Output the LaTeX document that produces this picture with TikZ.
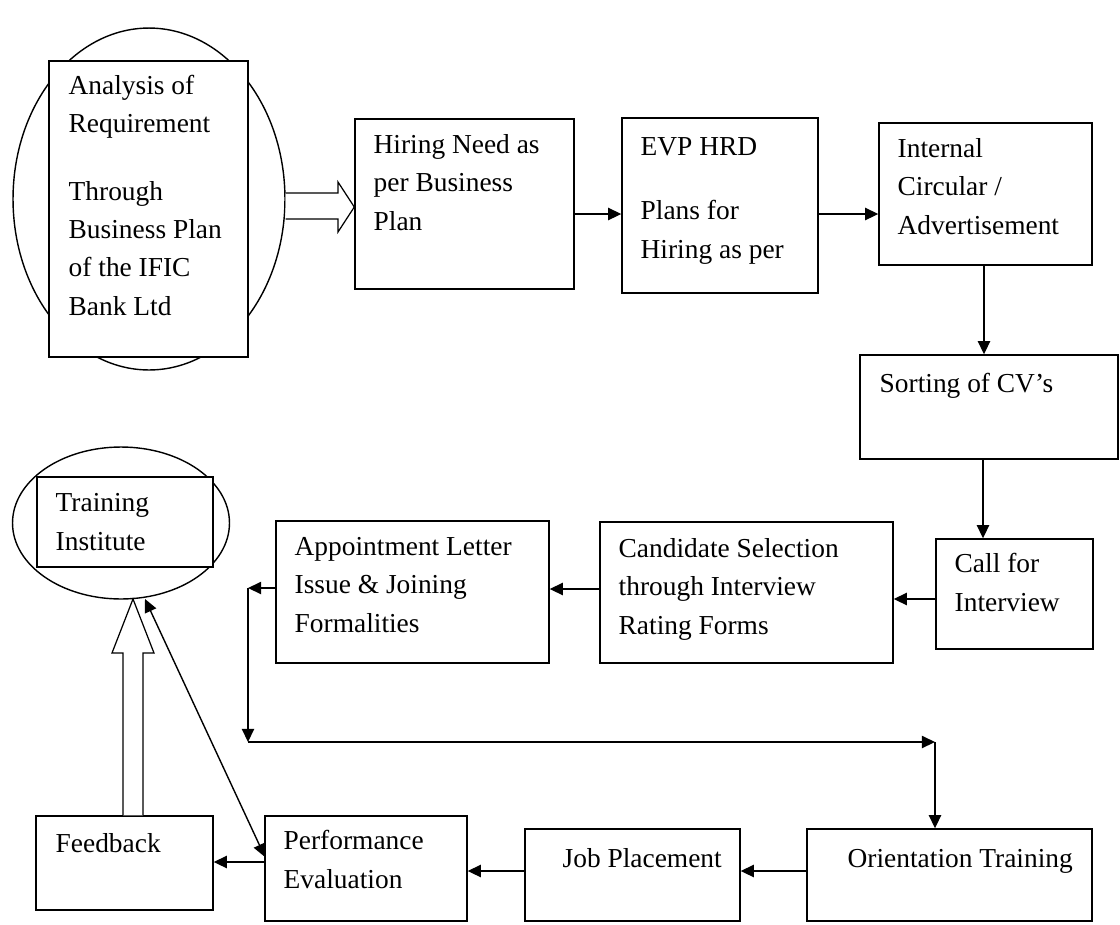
\documentclass[tikz,border=0pt]{standalone}
\usepackage{fontspec}
\setmainfont{Liberation Serif}
\usetikzlibrary{arrows.meta,fit,shapes.geometric}

\begin{document}
\begin{tikzpicture}[x=0.02cm,y=-0.02cm,line width=0.8pt,>={Triangle[length=7.5pt,width=7pt]}]
		\tikzstyle{every node}+=[inner sep=0pt]
		\tikzstyle{box}=[draw,rectangle,fill=white]
		\tikzstyle{oval}=[draw,ellipse]
		\tikzstyle{txt}=[anchor=base west,align=left,font=\fontsize{15.6}{21.8}\selectfont]
		\tikzstyle{blockarrow}=[draw,fill=white,line width=0.7pt,line join=miter]
		\useasboundingbox (0,0) rectangle (1120,924);
		\node [oval,minimum width=5.44cm,minimum height=6.84cm] (anaoval) at (149,199) {};
		\node [box,fit={(49,61) (248,357)}] (ana) {};
		\node [txt] (anatxt) at (68,315) {Analysis of\\Requirement\\[16.7pt]Through\\Business Plan\\of the IFIC\\Bank Ltd};
		\node [box,fit={(355,119) (574,289)}] (hire) {};
		\node [txt] (hiretxt) at (373,230) {Hiring Need as\\per Business\\Plan};
		\node [box,fit={(622,118) (818,293)}] (evp) {};
		\node [txt] (evptxt) at (640,258) {EVP HRD\\[15pt]Plans for\\Hiring as per};
		\node [box,fit={(879,123) (1092,265)}] (circ) {};
		\node [txt] (circtxt) at (897,234) {Internal\\Circular /\\Advertisement};
		\node [box,fit={(860,355) (1118,459)}] (sort) {};
		\node [txt] (sorttxt) at (879,392) {Sorting of CV’s};
		\node [box,fit={(936,539) (1093,649)}] (call) {};
		\node [txt] (calltxt) at (954,611) {Call for\\Interview};
		\node [box,fit={(600,522) (893,663)}] (cand) {};
		\node [txt] (candtxt) at (618,634) {Candidate Selection\\through Interview\\Rating Forms};
		\node [box,fit={(276,521) (549,663)}] (appt) {};
		\node [txt] (appttxt) at (294,632) {Appointment Letter\\Issue \& Joining\\Formalities};
		\node [oval,minimum width=4.34cm,minimum height=3.04cm] (trainoval) at (121,523) {};
		\node [box,fit={(37,477) (213,567)}] (train) {};
		\node [txt] (traintxt) at (55,550) {Training\\Institute};
		\node [box,fit={(36,816) (213,910)}] (feed) {};
		\node [txt] (feedtxt) at (55,852) {Feedback};
		\node [box,fit={(265,816) (467,921)}] (perf) {};
		\node [txt] (perftxt) at (283,888) {Performance\\Evaluation};
		\node [box,fit={(525,829) (740,921)}] (job) {};
		\node [txt] (jobtxt) at (562,867) {Job Placement};
		\node [box,fit={(807,829) (1092,921)}] (orient) {};
		\node [txt] (orienttxt) at (847,867) {Orientation Training};
		\draw [blockarrow] (anaoval.east |- 0,193) -- (338,193) -- (338,182) -- (hire.west |- 0,207) -- (338,232) -- (338,219) -- (anaoval.east |- 0,219);
		\draw [blockarrow] (feed.north -| 123,0) -- (123,653) -- (112,653) -- (133,599) -- (154,653) -- (143,653) -- (feed.north -| 143,0);
		\draw [->] (hire.east |- 0,214) -- (evp.west |- 0,214);
		\draw [->] (evp.east |- 0,214) -- (circ.west |- 0,214);
		\draw [->] (circ.south -| 984,0) -- (sort.north -| 984,0);
		\draw [->] (sort.south -| 983,0) -- (call.north -| 983,0);
		\draw [->] (call.west |- 0,599) -- (cand.east |- 0,599);
		\draw [->] (cand.west |- 0,589) -- (appt.east |- 0,589);
		\coordinate (turn1) at (248,588);
		\coordinate (turn2) at (248,742);
		\coordinate (turn3) at (935,742);
		\draw [->] (appt.west |- turn1) -- (turn1);
		\draw [->] (turn1) -- (turn2);
		\draw [->] (turn2) -- (turn3);
		\draw [->] (turn3) -- (orient.north -| turn3);
		\draw [->] (orient.west |- 0,871) -- (job.east |- 0,871);
		\draw [->] (job.west |- 0,871) -- (perf.east |- 0,871);
		\draw [->] (perf.west |- 0,862) -- (feed.east |- 0,862);
		\coordinate (evalend) at (265,857);
		\draw [<->] (145,599) -- (evalend);
	\end{tikzpicture}
\end{document}
